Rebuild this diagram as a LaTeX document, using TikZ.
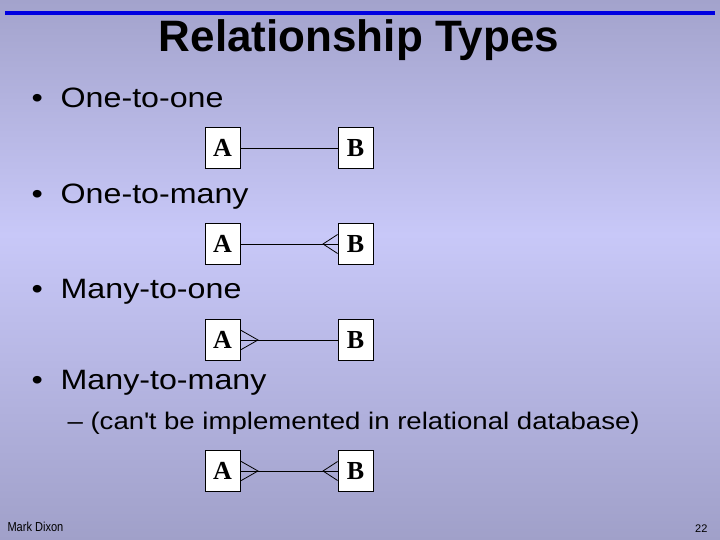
\documentclass[tikz,border=0pt]{standalone}
\usepackage{fontspec}
\setmainfont{Liberation Sans}
\newfontfamily\bodyfont[FakeStretch=1.15]{Liberation Sans}
\newfontfamily\footfont[FakeStretch=0.85]{Liberation Sans}
\newfontfamily\boxfont{Liberation Serif}
\usepackage{tikz}

\definecolor{slidetop}{RGB}{163,163,204}
\definecolor{slidemid}{RGB}{200,200,248}
\definecolor{slidebot}{RGB}{160,160,201}
\definecolor{slideblue}{RGB}{0,0,225}

\tikzset{
    entity/.style={draw,fill=white,line width=0.8pt,minimum width=35pt,minimum height=41pt,inner sep=0pt,
        font=\boxfont\bfseries\fontsize{26}{26}\selectfont},
    bullet/.style={anchor=base west,font=\bodyfont\fontsize{28}{28}\selectfont},
    subbullet/.style={anchor=base west,font=\bodyfont\fontsize{24}{24}\selectfont},
    link/.style={line width=0.8pt}
}

\begin{document}
\begin{tikzpicture}[x=1pt,y=-1pt]
            \shade[top color=slidetop,bottom color=slidemid] (0pt,0pt) rectangle (720pt,-235pt);
            \shade[top color=slidemid,bottom color=slidebot] (0pt,-234pt) rectangle (720pt,-540pt);
            \useasboundingbox (0,0) rectangle (720,540);
            \draw[line width=4pt,color=slideblue] (5,13) -- (715,13);
            \draw (359,52) node[anchor=base,font=\bfseries\fontsize{44}{44}\selectfont] (title) {Relationship Types};

            \draw (28,108) node[bullet] (b1) {\textbullet\ \ One-to-one};
            \draw (28,204) node[bullet] (b2) {\textbullet\ \ One-to-many};
            \draw (28,298) node[bullet] (b3) {\textbullet\ \ Many-to-one};
            \draw (28,389) node[bullet] (b4) {\textbullet\ \ Many-to-many};
            \draw (64,429) node[subbullet] (s4) {\textendash\ (can\textquotesingle t be implemented in relational database)};

            \begin{scope}[shift={(0,148)}]
                \node[entity] (A1) at (222.5,0) {A};
                \node[entity] (B1) at (355.5,0) {B};
                \draw[link] (A1) -- (B1);
            \end{scope}

            \begin{scope}[shift={(0,244)}]
                \node[entity] (A2) at (222.5,0) {A};
                \node[entity] (B2) at (355.5,0) {B};
                \coordinate (f2) at (323,0);
                \draw[link] (A2) -- (B2);
                \draw[link] ([yshift=9.5pt]B2.west) -- (f2) -- ([yshift=-9.5pt]B2.west);
            \end{scope}

            \begin{scope}[shift={(0,340)}]
                \node[entity] (A3) at (222.5,0) {A};
                \node[entity] (B3) at (355.5,0) {B};
                \coordinate (f3) at (258,0);
                \draw[link] (A3) -- (B3);
                \draw[link] ([yshift=10pt]A3.east) -- (f3) -- ([yshift=-10pt]A3.east);
            \end{scope}

            \begin{scope}[shift={(0,471)}]
                \node[entity] (A4) at (222.5,0) {A};
                \node[entity] (B4) at (355.5,0) {B};
                \coordinate (g4) at (258,0);
                \coordinate (f4) at (323,0);
                \draw[link] (A4) -- (B4);
                \draw[link] ([yshift=10pt]A4.east) -- (g4) -- ([yshift=-10pt]A4.east);
                \draw[link] ([yshift=9.5pt]B4.west) -- (f4) -- ([yshift=-9.5pt]B4.west);
            \end{scope}

            \draw (4,531) node[anchor=base west,font=\footfont\fontsize{13}{13}\selectfont] (author) {Mark Dixon};
            \draw (711,532) node[anchor=base east,font=\fontsize{11}{11}\selectfont] (page) {22};
        \end{tikzpicture}
\end{document}
